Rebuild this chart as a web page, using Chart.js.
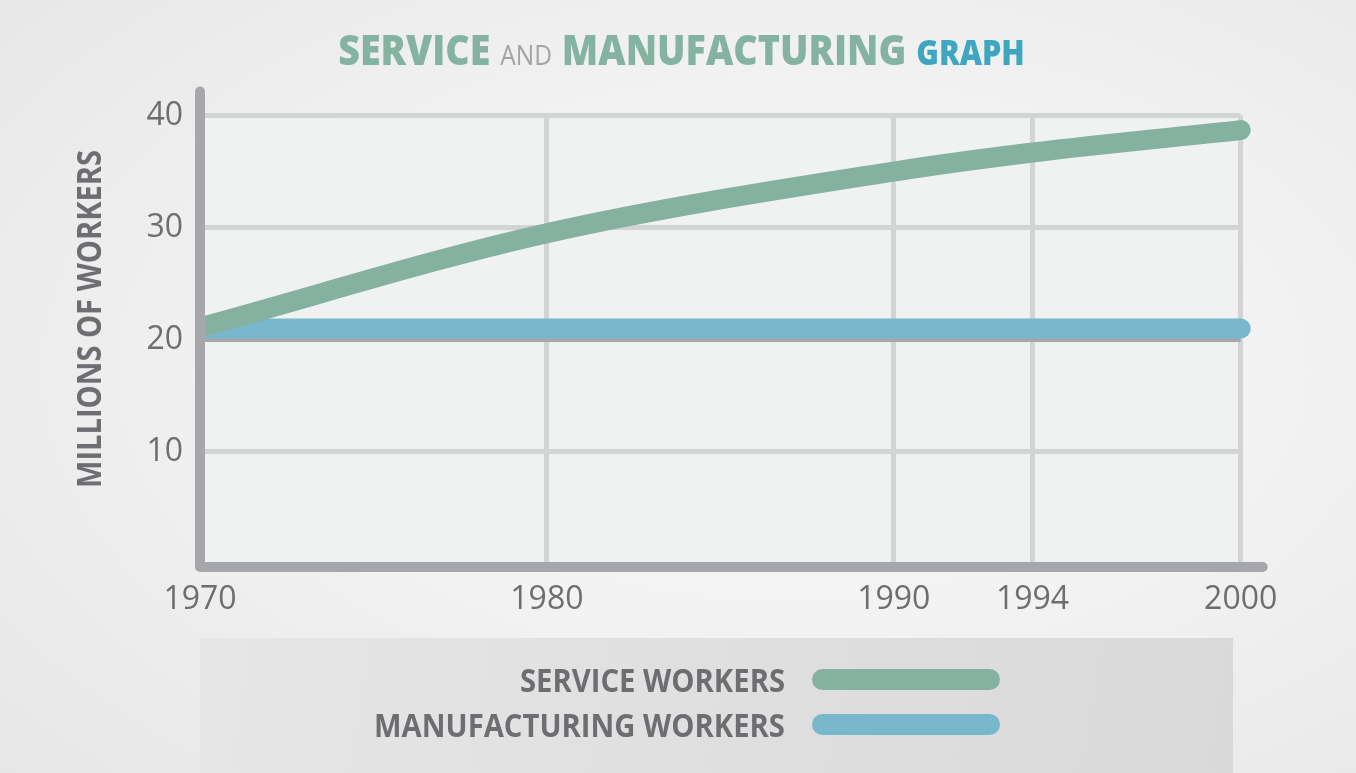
<!DOCTYPE html>
<html>
<head>
<meta charset="utf-8">
<script src="https://cdn.jsdelivr.net/npm/chart.js@4.4.1/dist/chart.umd.min.js"></script>
<style>
html,body{margin:0;padding:0;}
body{width:1356px;height:773px;overflow:hidden;position:relative;
  background: radial-gradient(ellipse 80% 80% at 58% 48%, #f7f7f7 0%, #f2f2f2 45%, #e6e6e6 100%);
  font-family:"Open Sans", sans-serif;}
#legendBox{position:absolute;left:200px;top:638px;width:1033px;height:135px;
  background:linear-gradient(100deg,#e6e6e6 0%,#dedede 60%,#d9d9d9 100%);}
#wrap{position:absolute;left:0;top:0;width:1356px;height:773px;}
.txt{position:absolute;left:0;top:0;white-space:nowrap;transform-origin:center center;}
#title{font-weight:800;font-size:43px;line-height:43px;}
#title .g{color:#84b4a1;}
#title .and{color:#a4a4a6;font-weight:400;font-size:28px;}
#title .b{color:#3ea6c0;font-size:35px;}
#ytitle{font-weight:700;font-size:34px;line-height:34px;color:#6d6e71;}
.legtxt{font-weight:700;font-size:32px;line-height:32px;color:#6d6e71;}
.sw{position:absolute;height:21px;border-radius:11px;}
</style>
</head>
<body>
<div id="legendBox"></div>
<div id="wrap"><canvas id="c"></canvas></div>
<div id="title" class="txt"><span class="g">SERVICE</span> <span class="and">AND</span> <span class="g">MANUFACTURING</span> <span class="b">GRAPH</span></div>
<div id="ytitle" class="txt">MILLIONS OF WORKERS</div>
<div id="leg"></div>
<script>
// ---- data ----
const years = [1970, 1980, 1990, 1994, 2000];
const serviceWorkers = [21.1, 29.5, 35.0, 36.7, 38.7];
const manufacturingWorkers = [21.0, 21.0, 21.0, 21.0, 21.0];
const xTickValues = [1970, 1980, 1990, 1994, 2000];
const yTickValues = [10, 20, 30, 40];
const seriesNames = ['SERVICE WORKERS', 'MANUFACTURING WORKERS'];
const seriesColors = ['#85b2a0', '#78b7cc'];
const yAxisTitle = 'MILLIONS OF WORKERS';

const toPts = vals => years.map((y, i) => ({x: y, y: vals[i]}));

const plotBg = {
  id: 'plotBg',
  beforeDraw(chart) {
    const {ctx, chartArea: a} = chart;
    ctx.save();
    ctx.fillStyle = '#f0f2f1';
    ctx.fillRect(a.left, a.top, a.right - a.left, a.bottom - a.top);
    ctx.restore();
  }
};
const axisLines = {
  id: 'axisLines',
  afterDatasetsDraw(chart) {
    const {ctx, chartArea: a} = chart;
    ctx.save();
    ctx.strokeStyle = '#a6a7aa';
    ctx.lineWidth = 10;
    ctx.lineCap = 'round';
    ctx.lineJoin = 'round';
    ctx.beginPath();
    ctx.moveTo(a.left, a.top - 24);
    ctx.lineTo(a.left, a.bottom + 3);
    ctx.lineTo(a.right + 22, a.bottom + 3);
    ctx.stroke();
    ctx.restore();
  }
};

const tickFont = {family: '"Open Sans", sans-serif', size: 32, weight: '400'};
const lineClip = {left: 0, top: 20, right: 20, bottom: 20};

new Chart(document.getElementById('c'), {
  type: 'line',
  data: {
    datasets: [
      {label: seriesNames[0], data: toPts(serviceWorkers), borderColor: seriesColors[0],
       backgroundColor: seriesColors[0], borderWidth: 20, pointRadius: 0,
       borderCapStyle: 'round', borderJoinStyle: 'round', cubicInterpolationMode: 'monotone', clip: lineClip},
      {label: seriesNames[1], data: toPts(manufacturingWorkers), borderColor: seriesColors[1],
       backgroundColor: seriesColors[1], borderWidth: 20, pointRadius: 0,
       borderCapStyle: 'round', borderJoinStyle: 'round', clip: lineClip}
    ]
  },
  options: {
    responsive: true,
    maintainAspectRatio: false,
    animation: false,
    layout: {padding: {top: 115.5, right: 115.3, left: 0, bottom: 0}},
    plugins: {legend: {display: false}, title: {display: false}, tooltip: {enabled: false}},
    scales: {
      x: {
        type: 'linear', min: 1970, max: 2000,
        afterBuildTicks: s => { s.ticks = xTickValues.map(v => ({value: v})); },
        afterFit: s => { s.height = 209; },
        border: {display: false},
        grid: {color: '#d3d4d5', lineWidth: 5, drawTicks: false},
        ticks: {font: tickFont, color: '#6d6e71', padding: 17, autoSkip: false, maxRotation: 0,
                callback: v => String(v)}
      },
      y: {
        min: 0, max: 40,
        afterBuildTicks: s => { s.ticks = yTickValues.map(v => ({value: v})); },
        afterFit: s => { s.width = 200; },
        border: {display: false},
        grid: {color: c => (c.tick && c.tick.value === 20) ? '#a6a7aa' : '#d3d4d5', lineWidth: 5, drawTicks: false},
        ticks: {font: tickFont, color: '#6d6e71', padding: 17, callback: v => String(v)}
      }
    }
  },
  plugins: [plotBg, axisLines]
});

// legend (HTML) built from series arrays
const leg = document.getElementById('leg');
const legRows = [
  {cy: 680, w: 265},
  {cy: 725, w: 411}
];
seriesNames.forEach((name, i) => {
  const t = document.createElement('div');
  t.className = 'txt legtxt';
  t.textContent = name;
  t.dataset.i = i;
  leg.appendChild(t);
  const sw = document.createElement('div');
  sw.className = 'sw';
  sw.style.background = seriesColors[i];
  sw.style.left = '812px';
  sw.style.width = '188px';
  sw.style.top = (legRows[i].cy - 1 - 10.5) + 'px';
  leg.appendChild(sw);
});
document.getElementById('ytitle').textContent = yAxisTitle;

function place(el, cx, cy, w, rot) {
  el.style.transform = 'none';
  const nat = el.offsetWidth;
  const sx = w / nat;
  el.style.transform = `translate(${cx}px, ${cy}px) translate(-50%,-50%) rotate(${rot || 0}deg) scaleX(${sx})`;
}
function layoutText() {
  place(document.getElementById('title'), 681.5, 51, 687, 0);
  place(document.getElementById('ytitle'), 88, 319, 338, -90);
  document.querySelectorAll('.legtxt').forEach(el => {
    const r = legRows[+el.dataset.i];
    place(el, 785 - r.w / 2, r.cy, r.w, 0);
  });
}
layoutText();
if (document.fonts && document.fonts.ready) document.fonts.ready.then(layoutText);
</script>
</body>
</html>
